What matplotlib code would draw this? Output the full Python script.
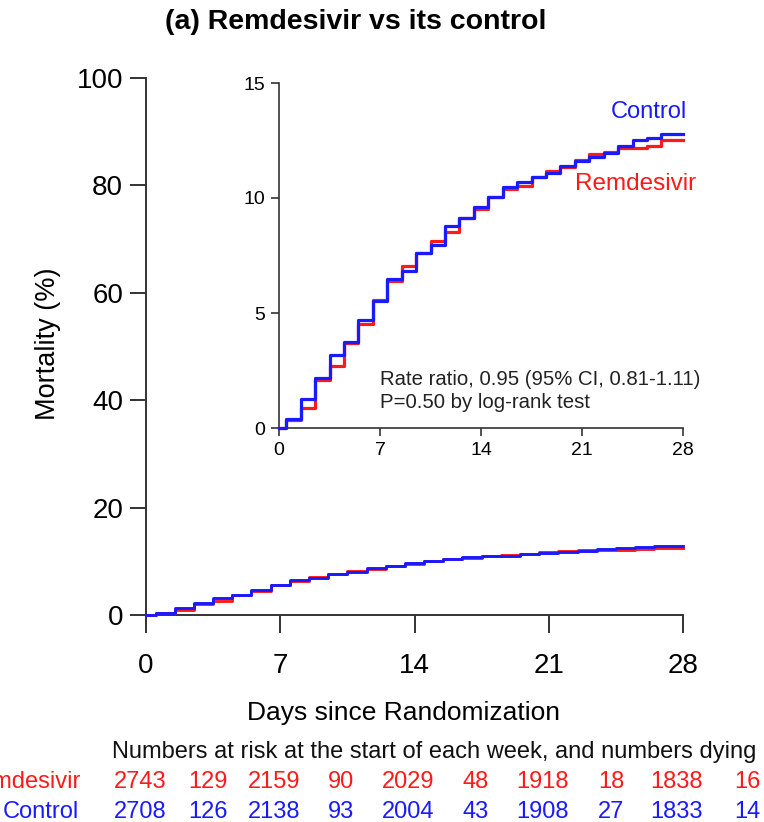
import matplotlib
matplotlib.use("Agg")
import matplotlib.pyplot as plt

plt.rcParams['font.family'] = ['Liberation Sans', 'DejaVu Sans']

# ---- data ----
step_days = [0, 0.5, 1.5, 2.5, 3.5, 4.5, 5.5, 6.5, 7.5, 8.5, 9.5, 10.5, 11.5, 12.5,
             13.5, 14.5, 15.5, 16.5, 17.5, 18.5, 19.5, 20.5, 21.5, 22.5, 23.5, 24.5,
             25.5, 26.5, 28]
control_mort = [0, 0.40, 1.28, 2.19, 3.19, 3.74, 4.69, 5.52, 6.46, 6.82, 7.59, 7.95,
                8.80, 9.11, 9.62, 10.03, 10.46, 10.71, 10.90, 11.07, 11.39, 11.63,
                11.77, 11.94, 12.26, 12.50, 12.60, 12.79, 12.79]
remdesivir_mort = [0, 0.33, 0.87, 2.10, 2.69, 3.70, 4.54, 5.56, 6.40, 7.05, 7.63, 8.14,
                   8.50, 9.11, 9.50, 10.03, 10.38, 10.54, 10.90, 11.19, 11.33, 11.65,
                   11.92, 12.02, 12.16, 12.16, 12.26, 12.53, 12.53]

x_ticks = [0, 7, 14, 21, 28]
main_y_ticks = [0, 20, 40, 60, 80, 100]
inset_y_ticks = [0, 5, 10, 15]

risk_header = "Numbers at risk at the start of each week, and numbers dying"
remdesivir_risk = ["2743", "129", "2159", "90", "2029", "48", "1918", "18", "1838", "16"]
control_risk = ["2708", "126", "2138", "93", "2004", "43", "1908", "27", "1833", "14"]
risk_col_x = [140, 208, 274, 341, 408, 476, 543, 611, 677, 747]

RED = '#ff1a1a'
BLUE = '#1a1aff'
SPINE = '#333333'

W, H = 764, 822
fig = plt.figure(figsize=(W / 100, H / 100), dpi=100)

def fx(px):
    return px / W

def fy(py):
    return 1 - py / H

# ---- main axes ----
ax = fig.add_axes([fx(146), fy(615), fx(683) - fx(146), fy(78) - fy(615)])
ax.step(step_days, remdesivir_mort, where='post', color=RED, lw=2.1, clip_on=False, zorder=3)
ax.step(step_days, control_mort, where='post', color=BLUE, lw=2.1, clip_on=False, zorder=4)
ax.set_xlim(0, 28)
ax.set_ylim(0, 100)
ax.set_xticks(x_ticks)
ax.set_yticks(main_y_ticks)
for s in ['top', 'right']:
    ax.spines[s].set_visible(False)
for s in ['left', 'bottom']:
    ax.spines[s].set_color(SPINE)
    ax.spines[s].set_linewidth(1.4)
ax.tick_params(axis='y', direction='out', length=11.5, width=1.4, color=SPINE,
               labelsize=20, pad=5)
ax.tick_params(axis='x', direction='out', length=13, width=1.4, color=SPINE,
               labelsize=20, pad=14)
ax.set_xlabel("Days since Randomization", fontsize=19)
ax.xaxis.set_label_coords(0.479, -0.16)
ax.set_ylabel("Mortality (%)", fontsize=19.5)
ax.yaxis.set_label_coords(-0.158, 0.505)

fig.text(fx(356), fy(22), "(a) Remdesivir vs its control", fontsize=20.5,
         fontweight='bold', ha='center', va='center')

# ---- inset axes ----
ins = fig.add_axes([fx(279), fy(428), fx(683) - fx(279), fy(83) - fy(428)])
ins.step(step_days, remdesivir_mort, where='post', color=RED, lw=2.3, clip_on=False, zorder=3)
ins.step(step_days, control_mort, where='post', color=BLUE, lw=2.3, clip_on=False, zorder=4)
ins.set_xlim(0, 28)
ins.set_ylim(0, 15)
ins.set_xticks(x_ticks)
ins.set_yticks(inset_y_ticks)
ins.patch.set_alpha(0)
for s in ['top', 'right']:
    ins.spines[s].set_visible(False)
for s in ['left', 'bottom']:
    ins.spines[s].set_color(SPINE)
    ins.spines[s].set_linewidth(1.2)
ins.tick_params(axis='both', direction='out', length=6, width=1.2, color=SPINE,
                labelsize=14, pad=4)
ins.text(28.25, 13.75, "Control", color=BLUE, fontsize=17, ha='right', va='center')
ins.text(28.9, 10.6, "Remdesivir", color=RED, fontsize=17.5, ha='right', va='center')
ins.text(7.0, 2.1, "Rate ratio, 0.95 (95% CI, 0.81-1.11)", fontsize=14.7,
         ha='left', va='center', color='#222222')
ins.text(7.0, 1.1, "P=0.50 by log-rank test", fontsize=14.7, ha='left', va='center',
         color='#222222')

# ---- numbers at risk table ----
FS = 17
fig.text(fx(112), fy(752), risk_header, fontsize=FS, ha='left', va='center', color='#111111')
fig.text(fx(81), fy(782), "Remdesivir", fontsize=FS, ha='right', va='center', color=RED)
fig.text(fx(79), fy(812), "Control", fontsize=FS, ha='right', va='center', color=BLUE)
for xp, r, c in zip(risk_col_x, remdesivir_risk, control_risk):
    fig.text(fx(xp), fy(782), r, fontsize=FS, ha='center', va='center', color=RED)
    fig.text(fx(xp), fy(812), c, fontsize=FS, ha='center', va='center', color=BLUE)

fig.savefig("out.png", dpi=100)
